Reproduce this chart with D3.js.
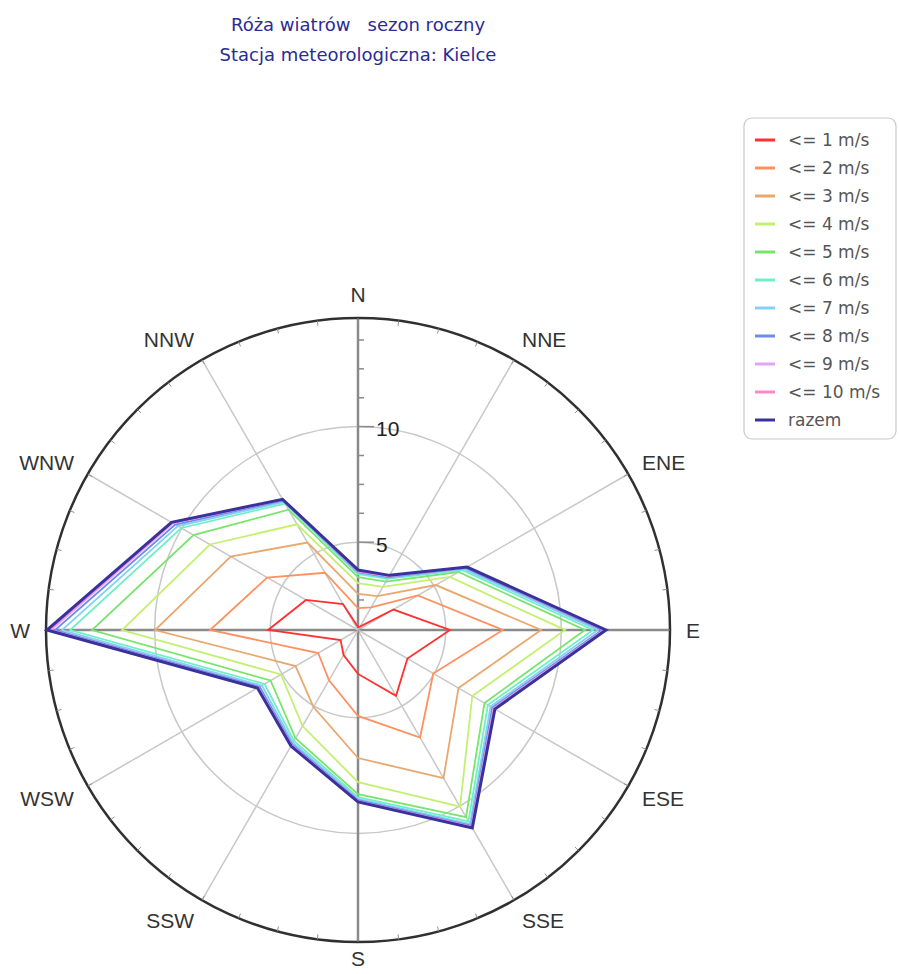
<!DOCTYPE html>
<html>
<head>
<meta charset="utf-8">
<script src="https://cdn.jsdelivr.net/npm/d3@7"></script>
<style>
  body { margin: 0; background: #fff; }
  svg { display: block; }
</style>
</head>
<body>
<svg id="chart" width="899" height="974"></svg>
<script>
// wind rose data, 12 sectors, values in axis units (cumulative classes)
var directions = ['N', 'NNE', 'ENE', 'E', 'ESE', 'SSE', 'S', 'SSW', 'WSW', 'W', 'WNW', 'NNW'];
var classNames = ['<= 1 m/s', '<= 2 m/s', '<= 3 m/s', '<= 4 m/s', '<= 5 m/s',
  '<= 6 m/s', '<= 7 m/s', '<= 8 m/s', '<= 9 m/s', '<= 10 m/s', 'razem'];

var le1  = [1.33, 1.37, 2.97, 5.18, 3.67, 4.49, 3.10, 2.45, 2.07, 5.09, 3.80, 2.50];
var le2  = [2.15, 2.33, 4.19, 7.47, 4.96, 6.57, 4.92, 3.71, 3.19, 7.60, 5.74, 4.06];
var le3  = [2.76, 2.89, 5.09, 9.12, 6.22, 8.60, 6.74, 5.05, 4.32, 9.98, 7.56, 5.57];
var le4  = [3.23, 3.36, 5.79, 10.16, 6.91, 10.03, 7.78, 6.00, 5.05, 11.41, 8.60, 6.48];
var le5  = [3.49, 3.62, 6.22, 11.02, 7.52, 10.55, 8.30, 6.61, 5.57, 12.71, 9.42, 7.21];
var le6  = [3.62, 3.75, 6.39, 11.37, 7.69, 10.76, 8.43, 6.74, 5.87, 13.66, 10.03, 7.52];
var le7  = [3.67, 3.80, 6.48, 11.58, 7.82, 10.89, 8.51, 6.83, 6.00, 14.01, 10.20, 7.60];
var le8  = [3.71, 3.84, 6.57, 11.76, 7.91, 10.98, 8.56, 6.91, 6.11, 14.31, 10.33, 7.67];
var le9  = [3.73, 3.88, 6.61, 11.84, 7.97, 11.02, 8.60, 6.95, 6.18, 14.48, 10.44, 7.70];
var le10 = [3.75, 3.90, 6.63, 11.89, 7.99, 11.04, 8.61, 6.97, 6.20, 14.57, 10.48, 7.72];
var razem = [3.80, 3.93, 6.65, 11.93, 8.04, 11.09, 8.64, 7.00, 6.22, 14.66, 10.52, 7.73];

var radialTicks = [2.5, 3.75, 5, 6.25, 7.5, 8.75, 10, 11.25, 12.5, 13.75];
var radialLabels = [5, 10];

var series = [le1, le2, le3, le4, le5, le6, le7, le8, le9, le10, razem];
var colors = ['#ff3030', '#ff9060', '#e8a870', '#c4f070', '#78e46c', '#6cf0c4',
  '#84d0f4', '#6c8cec', '#e2a4f6', '#ff88c8', '#3a329c'];

var svg = d3.select('#chart');
var cx = 358, cy = 630, R = 312;

var r = d3.scaleLinear().domain([1.2, 14.7]).range([0, R]).clamp(true);
var ang = d3.scaleLinear().domain([0, directions.length]).range([0, 2 * Math.PI]);

// title
/////////////////////////////////////
var title = svg.append('g')
  .attr('font-family', 'DejaVu Sans')
  .attr('font-size', 18)
  .attr('fill', '#2b2b96')
  .attr('text-anchor', 'middle');
title.append('text').attr('x', cx).attr('y', 31).attr('xml:space', 'preserve').text('Róża wiatrów   sezon roczny');
title.append('text').attr('x', cx).attr('y', 61).text('Stacja meteorologiczna: Kielce');

var g = svg.append('g').attr('transform', 'translate(' + cx + ',' + cy + ')');

// grid circles
g.selectAll('.ring')
  .data(radialLabels)
  .enter().append('circle')
  .attr('r', function(d){ return r(d); })
  .attr('fill', 'none')
  .attr('stroke', '#c8c8c8')
  .attr('stroke-width', 1.5);

// spokes
g.selectAll('.spoke')
  .data(directions)
  .enter().append('line')
  .attr('x1', 0).attr('y1', 0)
  .attr('x2', function(d, i){ return R * Math.sin(ang(i)); })
  .attr('y2', function(d, i){ return -R * Math.cos(ang(i)); })
  .attr('stroke', function(d, i){ return i % 3 === 0 ? '#8a8a8a' : '#c8c8c8'; })
  .attr('stroke-width', function(d, i){ return i % 3 === 0 ? 2.5 : 1.5; });

// outer circle + angular ticks every 7.5 deg
g.append('circle')
  .attr('r', R)
  .attr('fill', 'none')
  .attr('stroke', '#303030')
  .attr('stroke-width', 2.5);

g.selectAll('.atick')
  .data(d3.range(48))
  .enter().append('line')
  .attr('x1', function(d){ return R * Math.sin(d * Math.PI / 24); })
  .attr('y1', function(d){ return -R * Math.cos(d * Math.PI / 24); })
  .attr('x2', function(d){ return (R - 5) * Math.sin(d * Math.PI / 24); })
  .attr('y2', function(d){ return -(R - 5) * Math.cos(d * Math.PI / 24); })
  .attr('stroke', '#909090')
  .attr('stroke-width', 1);

// radial ticks on N axis
g.selectAll('.rtick')
  .data(radialTicks)
  .enter().append('line')
  .attr('x1', 0)
  .attr('x2', function(d){ return radialLabels.indexOf(d) >= 0 ? 16 : 6; })
  .attr('y1', function(d){ return -r(d); })
  .attr('y2', function(d){ return -r(d); })
  .attr('stroke', '#8a8a8a')
  .attr('stroke-width', 1.5);

g.selectAll('.rlabel')
  .data(radialLabels)
  .enter().append('text')
  .attr('x', 18)
  .attr('y', function(d){ return -r(d) + 2; })
  .attr('dominant-baseline', 'central')
  .attr('font-family', 'Liberation Sans')
  .attr('font-size', 21)
  .attr('fill', '#222')
  .text(function(d){ return d; });

// direction labels (S nudged up a little so it stays on the page)
g.selectAll('.dlabel')
  .data(directions)
  .enter().append('text')
  .attr('x', function(d, i){ return 328 * Math.sin(ang(i)); })
  .attr('y', function(d, i){ return d === 'S' ? 328 : -336 * Math.cos(ang(i)); })
  .attr('text-anchor', function(d, i){
    var s = Math.sin(ang(i));
    return Math.abs(s) < 0.01 ? 'middle' : (s > 0 ? 'start' : 'end');
  })
  .attr('dominant-baseline', 'central')
  .attr('font-family', 'Liberation Sans')
  .attr('font-size', 21)
  .attr('fill', '#333')
  .text(function(d){ return d; });

// polygons
var line = d3.lineRadial()
  .angle(function(d, i){ return ang(i); })
  .radius(function(d){ return r(d); })
  .curve(d3.curveLinearClosed);

g.selectAll('.rose')
  .data(series)
  .enter().append('path')
  .attr('d', line)
  .attr('fill', 'none')
  .attr('stroke', function(d, i){ return colors[i]; })
  .attr('stroke-width', function(d, i){ return i === series.length - 1 ? 3 : 1.8; })
  .attr('stroke-linejoin', 'miter');

// legend
/////////////////////////////////////
var legend = svg.append('g').attr('transform', 'translate(744,118)');
legend.append('rect')
  .attr('width', 152).attr('height', 321)
  .attr('rx', 8)
  .attr('fill', '#fff')
  .attr('stroke', '#c8c8c8')
  .attr('stroke-width', 1.2);

var item = legend.selectAll('.item')
  .data(classNames)
  .enter().append('g')
  .attr('transform', function(d, i){ return 'translate(0,' + (22 + i * 28) + ')'; });

item.append('line')
  .attr('x1', 11).attr('x2', 31)
  .attr('stroke', function(d, i){ return colors[i]; })
  .attr('stroke-width', 3);

item.append('text')
  .attr('x', 44)
  .attr('dominant-baseline', 'central')
  .attr('font-family', 'DejaVu Sans')
  .attr('font-size', 17)
  .attr('fill', '#555')
  .text(function(d){ return d; });
</script>
</body>
</html>
